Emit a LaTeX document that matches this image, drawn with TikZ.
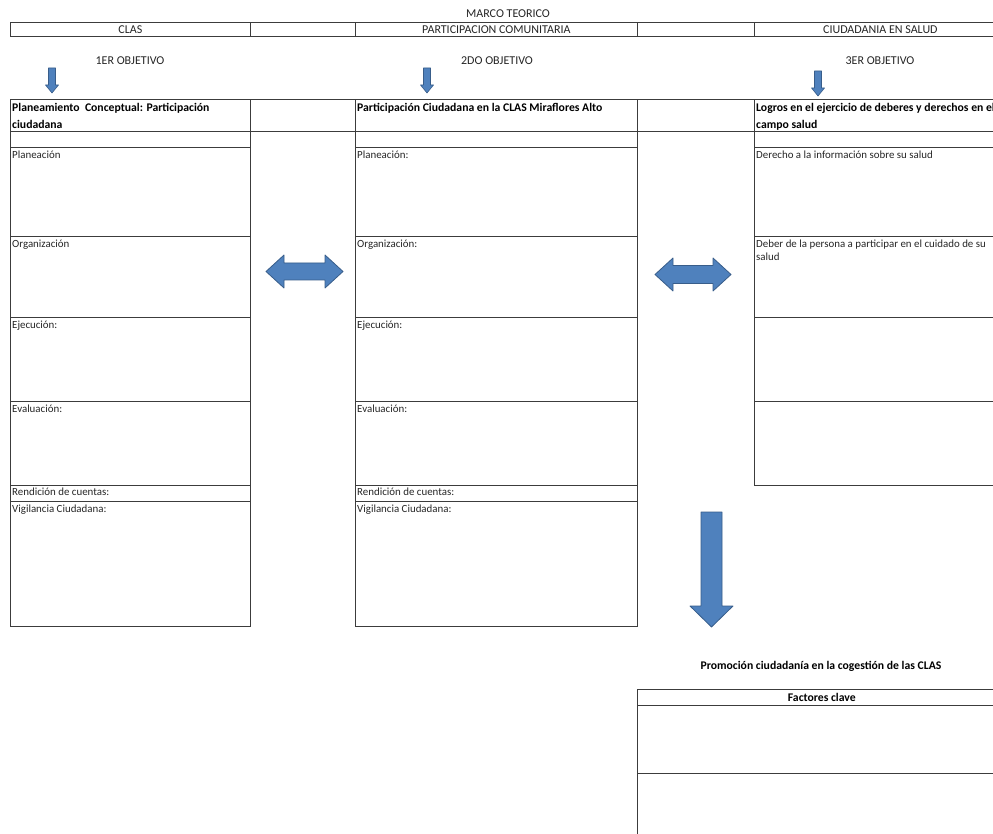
\documentclass[tikz,border=0pt]{standalone}
\usepackage{fontspec}
\setmainfont{Carlito}
\definecolor{ln}{HTML}{3C3C3C}
\definecolor{afill}{HTML}{4F81BD}
\definecolor{aline}{HTML}{385D8A}
\begin{document}
\begin{tikzpicture}[x=1pt,y=-1pt,
  cell/.style={draw=ln,line width=0.7pt,rectangle,inner sep=0pt,anchor=north west},
  lbl/.style={anchor=north west,inner sep=0pt,font=\fontsize{10.9}{13}\selectfont,text=black!85,align=left},
  hdr/.style={font=\fontsize{12}{14}\selectfont,text=black!85,inner sep=0pt},
  ttl/.style={anchor=north west,inner sep=0pt,font=\bfseries\fontsize{11.7}{17}\selectfont,align=left},
  bt/.style={font=\bfseries\fontsize{11.7}{14}\selectfont,inner sep=0pt},
  shape arrow/.style={fill=afill,draw=aline,line width=0.8pt,line join=round}]
\useasboundingbox (0,0) rectangle (993,834);
\clip (0,0) rectangle (993,834);
\fill[white] (0,0) rectangle (993,834);
% header row
\node[hdr] (marco) at (508,14) {MARCO TEORICO};
\node[cell,minimum width=240,minimum height=14] (hA) at (10,22) {};
\node[cell,minimum width=105,minimum height=14] (hG1) at (250,22) {};
\node[cell,minimum width=282,minimum height=14] (hB) at (355,22) {};
\node[cell,minimum width=117,minimum height=14] (hG2) at (637,22) {};
\node[cell,minimum width=252,minimum height=14] (hC) at (754,22) {};
\node[hdr] at (hA.center) {CLAS};
\node[hdr] at (hB.center) {PARTICIPACION COMUNITARIA};
\node[hdr] at (hC.center) {CIUDADANIA EN SALUD};
% objectives
\node[hdr] (o1) at (130,61) {1ER OBJETIVO};
\node[hdr] (o2) at (497,61) {2DO OBJETIVO};
\node[hdr] (o3) at (880,61) {3ER OBJETIVO};
% small arrows
\foreach \cx/\ty in {52/68,427/68,818/71}{
  \draw[shape arrow,line width=0.6pt] (\cx-3.5,\ty) -- (\cx+3.5,\ty) -- (\cx+3.5,\ty+17) -- (\cx+6.5,\ty+17) -- (\cx,\ty+25) -- (\cx-6.5,\ty+17) -- (\cx-3.5,\ty+17) -- cycle;
}
% title rows
\node[cell,minimum width=240,minimum height=32] (tA) at (10,99) {};
\node[cell,minimum width=105,minimum height=32] (tG1) at (250,99) {};
\node[cell,minimum width=282,minimum height=32] (tB) at (355,99) {};
\node[cell,minimum width=117,minimum height=32] (tG2) at (637,99) {};
\node[cell,minimum width=252,minimum height=32] (tC) at (754,99) {};
\node[ttl] at ([xshift=2pt,yshift=-4pt]tA.north west) {Planeamiento\ \ Conceptual: Participación\\ciudadana};
\node[ttl] at ([xshift=2pt,yshift=-4pt]tB.north west) {Participación Ciudadana en la CLAS Miraflores Alto};
\node[ttl] at ([xshift=2pt,yshift=-4pt]tC.north west) {Logros en el ejercicio de deberes y derechos en el\\campo salud};
% column A
\node[cell,minimum width=240,minimum height=16] (eA) at (10,131) {};
\node[cell,minimum width=240,minimum height=89] (a1) at (10,147) {};
\node[cell,minimum width=240,minimum height=81] (a2) at (10,236) {};
\node[cell,minimum width=240,minimum height=84] (a3) at (10,317) {};
\node[cell,minimum width=240,minimum height=84] (a4) at (10,401) {};
\node[cell,minimum width=240,minimum height=16] (a5) at (10,485) {};
\node[cell,minimum width=240,minimum height=125] (a6) at (10,501) {};
% column B
\node[cell,minimum width=282,minimum height=16] (eB) at (355,131) {};
\node[cell,minimum width=282,minimum height=89] (b1) at (355,147) {};
\node[cell,minimum width=282,minimum height=81] (b2) at (355,236) {};
\node[cell,minimum width=282,minimum height=84] (b3) at (355,317) {};
\node[cell,minimum width=282,minimum height=84] (b4) at (355,401) {};
\node[cell,minimum width=282,minimum height=16] (b5) at (355,485) {};
\node[cell,minimum width=282,minimum height=125] (b6) at (355,501) {};
% column C
\node[cell,minimum width=252,minimum height=16] (eC) at (754,131) {};
\node[cell,minimum width=252,minimum height=89] (c1) at (754,147) {};
\node[cell,minimum width=252,minimum height=81] (c2) at (754,236) {};
\node[cell,minimum width=252,minimum height=84] (c3) at (754,317) {};
\node[cell,minimum width=252,minimum height=84] (c4) at (754,401) {};
% labels
\foreach \n/\t in {a1/Planeación,a2/Organización,a3/Ejecución:,a4/Evaluación:,a6/Vigilancia Ciudadana:,
                   b1/Planeación:,b2/Organización:,b3/Ejecución:,b4/Evaluación:,b6/Vigilancia Ciudadana:,
                   c1/Derecho a la información sobre su salud}{
  \node[lbl] at ([xshift=2pt,yshift=-4pt]\n.north west) {\t};
}
\foreach \n in {a5,b5}{
  \node[lbl] at ([xshift=2pt,yshift=-3pt]\n.north west) {Rendición de cuentas:};
}
\node[lbl] at ([xshift=2pt,yshift=-4pt]c2.north west) {Deber de la persona a participar en el cuidado de su\\salud};
% double arrows
\draw[shape arrow] (266,271.5) -- (284,255) -- (284,263) -- (325,263) -- (325,255) -- (343,271.5) -- (325,288) -- (325,280) -- (284,280) -- (284,288) -- cycle;
\draw[shape arrow] (655,274.5) -- (673,258) -- (673,265.5) -- (713,265.5) -- (713,258) -- (731,274.5) -- (713,291) -- (713,283.5) -- (673,283.5) -- (673,291) -- cycle;
% big down arrow
\draw[shape arrow] (701,512) -- (722,512) -- (722,606) -- (733,606) -- (711.5,627) -- (690,606) -- (701,606) -- cycle;
% bottom
\node[bt] (promo) at (821,666) {Promoción ciudadanía en la cogestión de las CLAS};
\node[cell,minimum width=369,minimum height=16] (fk) at (637,689) {};
\node[bt] at (fk.center) {Factores clave};
\node[cell,minimum width=369,minimum height=68] (f1) at (637,705) {};
\node[cell,minimum width=369,minimum height=80] (f2) at (637,773) {};
\end{tikzpicture}
\end{document}
